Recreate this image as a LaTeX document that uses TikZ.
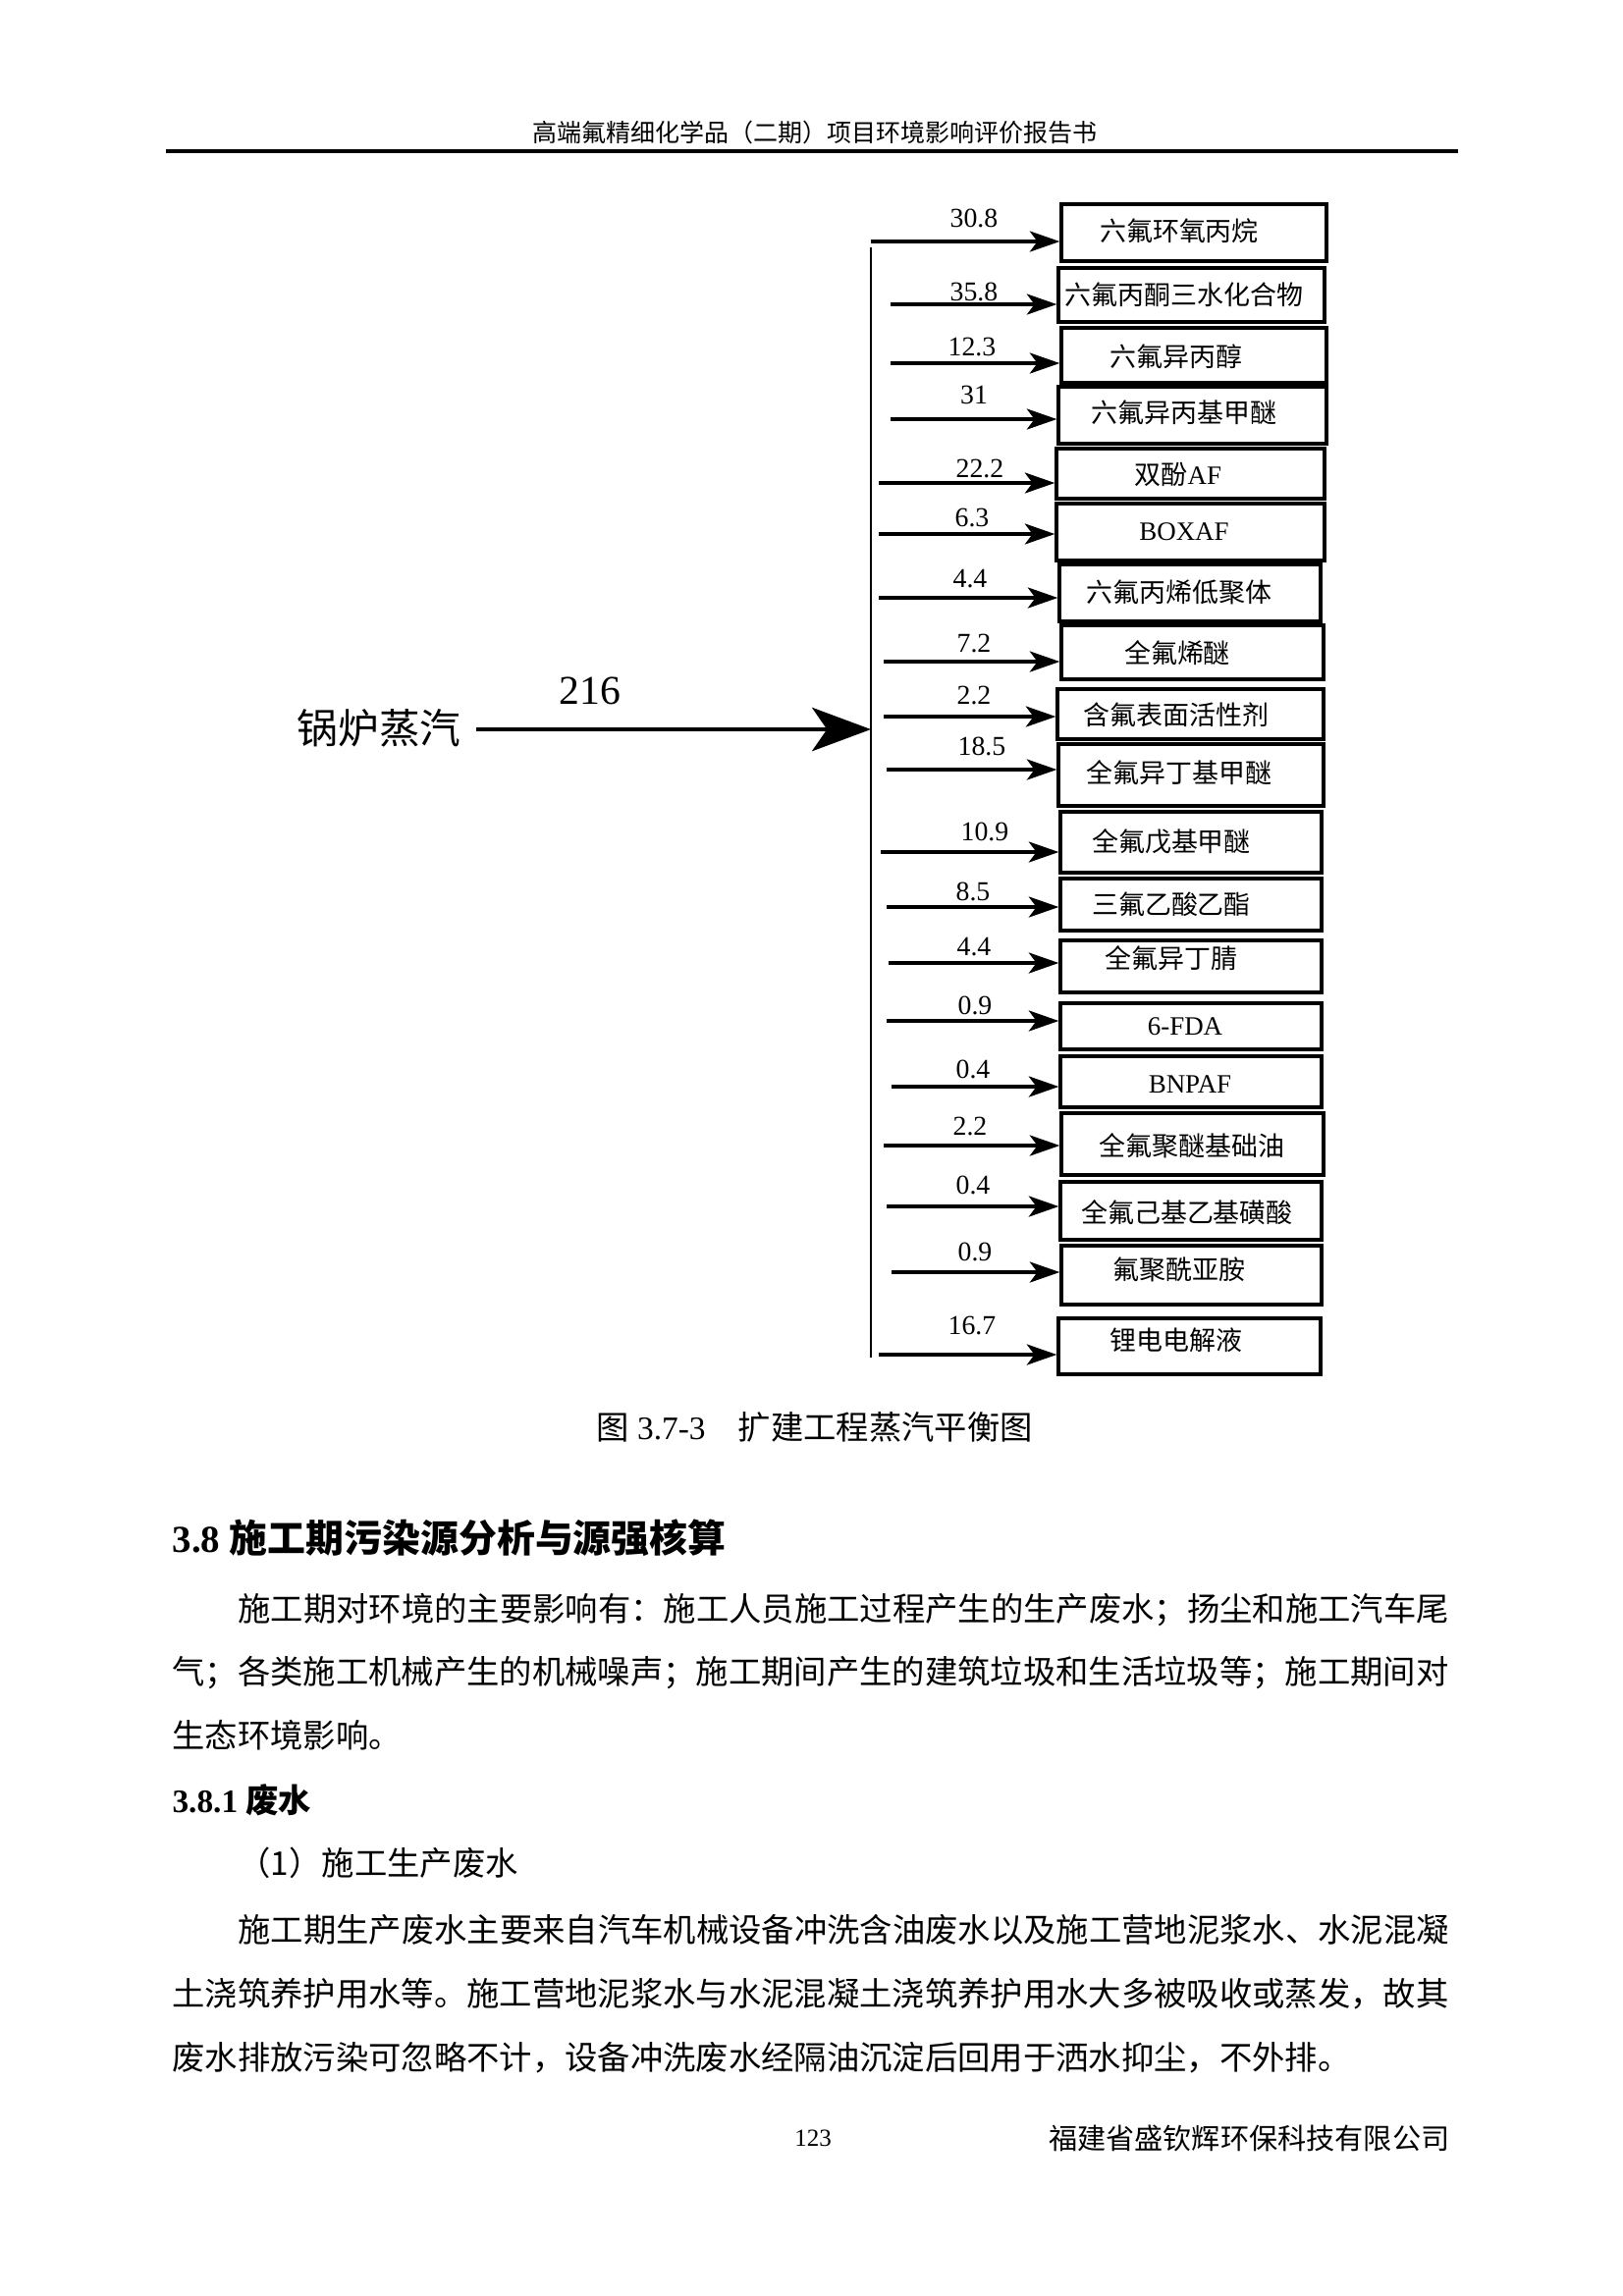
\documentclass[tikz,border=0pt]{standalone}
\usepackage{fontspec}
\setmainfont{Liberation Serif}
\newfontfamily\cjk{Noto Sans CJK SC}
\usetikzlibrary{arrows.meta,fit}
\begin{document}
\begin{tikzpicture}[x=0.36pt,y=-0.36pt,
  box/.style={draw,line width=1.2pt,inner sep=0pt},
  br/.style={line width=1.1pt,-{Stealth[length=11pt,width=7.6pt,inset=2.8pt]}},
  mainarr/.style={line width=1.2pt,-{Stealth[length=21.6pt,width=16pt,inset=5.5pt]}},
  num/.style={font=\fontsize{10}{12}\selectfont,inner sep=0pt},
  lab/.style={font=\cjk\fontsize{9.7}{12}\selectfont,inner sep=0pt},
  body/.style={font=\cjk\fontsize{12}{14}\selectfont,inner sep=0pt,anchor=west}]
\useasboundingbox (0,0) rectangle (1653,2339);
\fill[white] (0,0) rectangle (1653,2339);
% header
\node[inner sep=0pt,anchor=west,font=\cjk\fontsize{9}{11}\selectfont] (hdr) at (542,135) {高端氟精细化学品（二期）项目环境影响评价报告书};
\coordinate (hl) at (169,154);
\coordinate (hr) at (1485,154);
\draw[line width=1.2pt] (hl) -- (hr);
% bus
\coordinate (bustop) at (887,252);
\coordinate (busbot) at (887,1383);
\draw[line width=0.9pt] (bustop) -- (busbot);
% source
\node[inner sep=0pt,font=\cjk\fontsize{15}{17}\selectfont] (src) at (386,742) {锅炉蒸汽};
\coordinate (m0) at (485,743);
\coordinate (m1) at (887,743);
\draw[mainarr] (m0) -- (m1);
\node[inner sep=0pt,font=\fontsize{15}{17}\selectfont] (total) at (601,704) {216};
% branches
\foreach \i/\xa/\ya/\xb/\yb/\tx/\ty/\t/\ax/\ay/\nx/\ny/\n in {
1/1081/208/1351/266/1201/235/{六氟环氧丙烷}/887/246/992/222/30.8,
2/1078/273/1349/328/1206/300/{六氟丙酮三水化合物}/907/310/992/297/35.8,
3/1081/334/1351/390/1198/363/{六氟异丙醇}/907/370/990/353/12.3,
4/1078/394/1351/452/1206/420/{六氟异丙基甲醚}/907/427/992/402/31,
5/1076/457/1349/508/1200/483/{双酚{\rmfamily AF}}/895/492/998/477/22.2,
6/1076/513/1349/571/1206/542/{\rmfamily BOXAF}/895/544/990/527/6.3,
7/1079/575/1345/633/1201/603/{六氟丙烯低聚体}/895/609/988/590/4.4,
8/1081/637/1348/692/1199/665/{全氟烯醚}/900/674/992/655/7.2,
9/1077/702/1348/753/1198/728/{含氟表面活性剂}/900/730/992/708/2.2,
10/1078/758/1348/821/1201/787/{全氟异丁基甲醚}/903/784/1000/760/18.5,
11/1080/827/1346/889/1193/857/{全氟戊基甲醚}/897/868/1003/847/10.9,
12/1080/895/1346/948/1193/921/{三氟乙酸乙酯}/903/924/991/908/8.5,
13/1080/958/1346/1011/1193/976/{全氟异丁腈}/905/981/992/965/4.4,
14/1080/1022/1346/1069/1207/1046/{\rmfamily 6-FDA}/903/1040/993/1024/0.9,
15/1080/1076/1346/1128/1212/1105/{\rmfamily BNPAF}/908/1107/991/1089/0.4,
16/1081/1134/1348/1197/1214/1167/{全氟聚醚基础油}/900/1167/988/1147/2.2,
17/1080/1204/1346/1263/1209/1235/{全氟己基乙基磺酸}/903/1229/991/1207/0.4,
18/1081/1269/1346/1329/1201/1293/{氟聚酰亚胺}/908/1296/993/1275/0.9,
19/1078/1343/1345/1400/1198/1365/{锂电电解液}/895/1380/990/1350/16.7}
{
  \node[box,fit={(\xa,\ya) (\xb,\yb)}] (b\i) {};
  \node[lab] (t\i) at (\tx,\ty) {\t};
  \coordinate (s\i) at (\ax,\ay);
  \draw[br] (s\i) -- (s\i -| b\i.west);
  \node[num] (n\i) at (\nx,\ny) {\n};
}
% caption
\node[inner sep=0pt,anchor=west,font=\fontsize{12}{14}\selectfont] (cap) at (607,1454) {{\cjk 图} 3.7-3{\cjk 　扩建工程蒸汽平衡图}};
% section heading
\node[inner sep=0pt,anchor=west,font=\bfseries\fontsize{14}{16}\selectfont] (sec) at (175,1567) {3.8 {\cjk\bfseries 施工期污染源分析与源强核算}};
\node[body] (p1) at (242,1640) {施工期对环境的主要影响有：施工人员施工过程产生的生产废水；扬尘和施工汽车尾};
\node[body] (p2) at (175,1704) {气；各类施工机械产生的机械噪声；施工期间产生的建筑垃圾和生活垃圾等；施工期间对};
\node[body] (p3) at (175,1768) {生态环境影响。};
\node[inner sep=0pt,anchor=west,font=\bfseries\fontsize{12}{14}\selectfont] (sub) at (175,1834) {3.8.1 {\cjk\bfseries 废水}};
\node[body] (q0) at (242,1898) {（1）施工生产废水};
\node[body] (q1) at (242,1966) {施工期生产废水主要来自汽车机械设备冲洗含油废水以及施工营地泥浆水、水泥混凝};
\node[body] (q2) at (175,2031) {土浇筑养护用水等。施工营地泥浆水与水泥混凝土浇筑养护用水大多被吸收或蒸发，故其};
\node[body] (q3) at (175,2096) {废水排放污染可忽略不计，设备冲洗废水经隔油沉淀后回用于洒水抑尘，不外排。};
% footer
\node[inner sep=0pt,font=\fontsize{9}{11}\selectfont] (pg) at (828,2178) {123};
\node[inner sep=0pt,anchor=east,font=\cjk\fontsize{10.5}{12}\selectfont] (co) at (1477,2178) {福建省盛钦辉环保科技有限公司};
\end{tikzpicture}
\end{document}
